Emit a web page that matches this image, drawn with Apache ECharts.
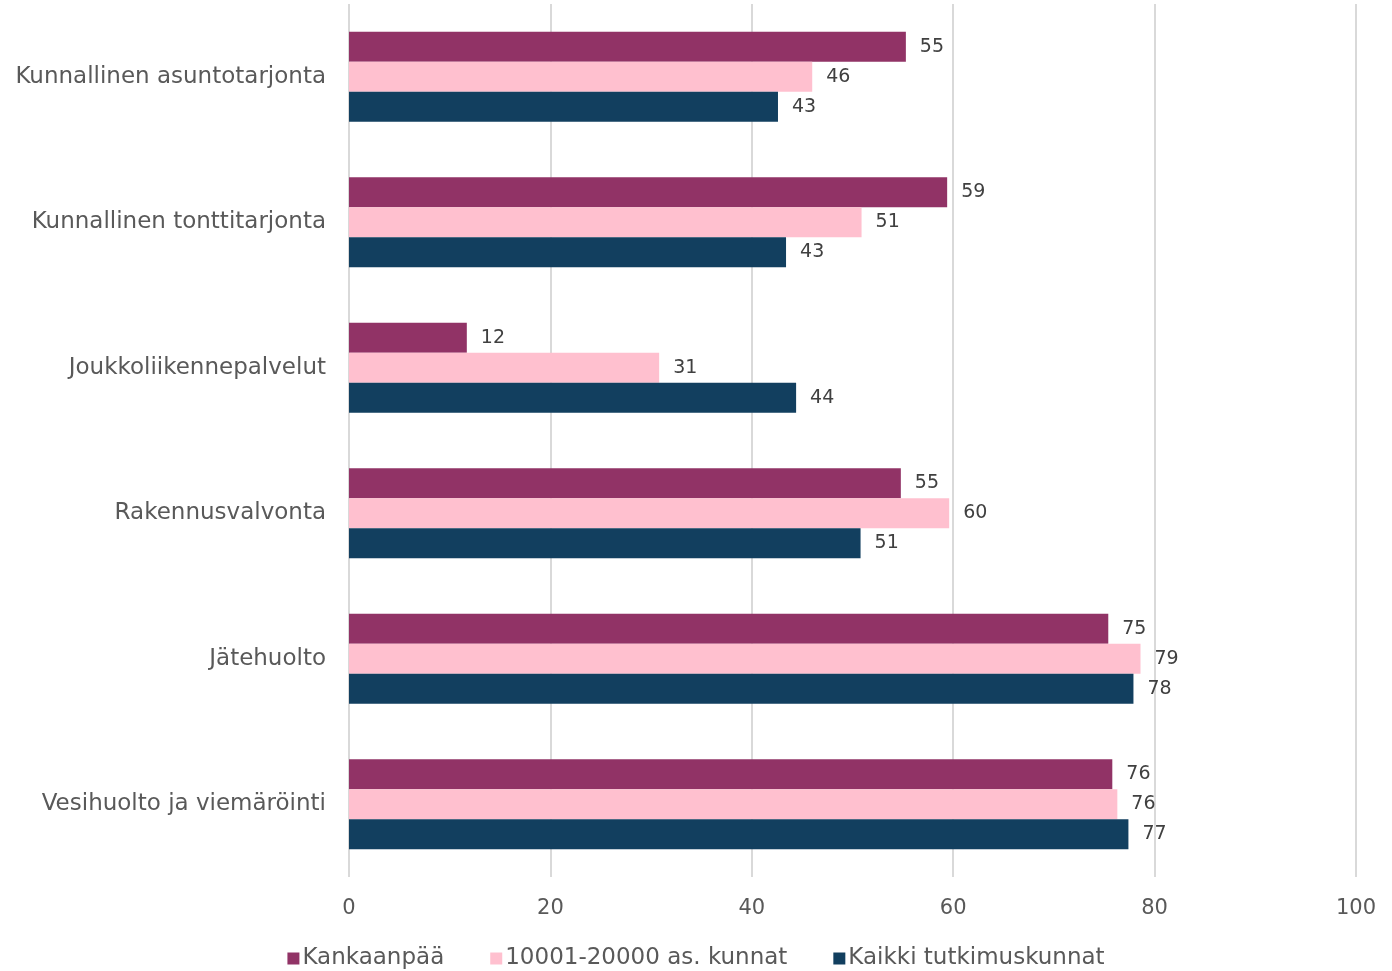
<!DOCTYPE html>
<html><head><meta charset="utf-8">
<script src="https://cdn.jsdelivr.net/npm/echarts@6/dist/echarts.min.js"></script>
<style>html,body{margin:0;padding:0;background:#fff}#c{width:1392px;height:971px}</style>
</head><body><div id="c"></div>
<script>
const categories = ["Kunnallinen asuntotarjonta","Kunnallinen tonttitarjonta","Joukkoliikennepalvelut","Rakennusvalvonta","Jätehuolto","Vesihuolto ja viemäröinti"];
const seriesNames = ["Kankaanpää","10001-20000 as. kunnat","Kaikki tutkimuskunnat"];
const kankaanpaa = [55.3, 59.4, 11.7, 54.8, 75.4, 75.8];
const kunnat10001 = [46.0, 50.9, 30.8, 59.6, 78.6, 76.3];
const kaikki = [42.6, 43.4, 44.4, 50.8, 77.9, 77.4];
const colors = ["#913366", "#FFC0CF", "#123F5F"];
const font = "'DejaVu Sans', sans-serif";

const chart = echarts.init(document.getElementById('c'));
const mk = (name, data, color) => ({
  name, type: 'bar', data,
  itemStyle: { color },
  barGap: '0%', barCategoryGap: '38%',
  label: { show: true, position: 'right', distance: 14, color: '#404040', fontSize: 19, fontFamily: font,
    formatter: p => Math.round(p.value) }
});
chart.setOption({
  animation: false,
  textStyle: { fontFamily: font },
  legend: {
    bottom: -4, left: 'center', itemWidth: 12, itemHeight: 12, itemGap: 46,
    icon: 'rect',
    textStyle: { fontSize: 23, color: '#595959', fontFamily: font, padding: [0,0,0,-2] },
    data: seriesNames
  },
  grid: { left: 349, right: 36, top: 4, bottom: 94, containLabel: false },
  xAxis: {
    type: 'value', min: 0, max: 100, interval: 20,
    axisLine: { show: false }, axisTick: { show: false },
    splitLine: { lineStyle: { color: '#D9D9D9', width: 2 } },
    axisLabel: { fontSize: 21, color: '#595959', margin: 21, fontFamily: font }
  },
  yAxis: {
    type: 'category', data: categories, inverse: true,
    axisLine: { show: false }, axisTick: { show: false },
    axisLabel: { fontSize: 23, color: '#595959', margin: 23, fontFamily: font }
  },
  series: [mk(seriesNames[0], kankaanpaa, colors[0]), mk(seriesNames[1], kunnat10001, colors[1]), mk(seriesNames[2], kaikki, colors[2])]
});
</script></body></html>
